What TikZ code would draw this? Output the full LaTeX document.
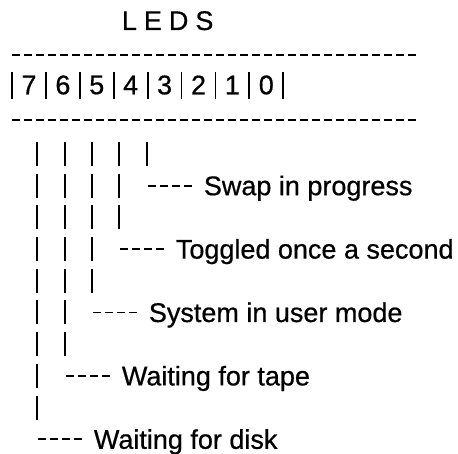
\documentclass[tikz,border=0pt]{standalone}
\usepackage{fontspec}
\setmainfont{Liberation Sans}[FakeBold=0.6]
\begin{document}
\begin{tikzpicture}[x=1pt,y=-1pt,line width=1.8pt]
    \tikzstyle{txt}=[inner sep=0pt,font=\fontsize{27}{32}\selectfont]
    \tikzstyle{dashrule}=[dash pattern=on 8pt off 4pt]
    \useasboundingbox (0,0) rectangle (458,454);

    \node[txt,anchor=base west] (title) at (121,30) {L\kern7pt E\kern7pt D\kern7pt S};
    \draw[dashrule] (12,55) -- (418,55);
    \draw[dashrule] (12,120) -- (418,120);

    % bit numbers between the bars
    \foreach \j in {0,...,8}
        \draw (12+33.9*\j,72) -- ++(0,27);
    \foreach \d [count=\j from 0] in {7,6,5,4,3,2,1,0}
        \node[txt] (D-\d) at (29+33.9*\j,85) {\d};

    % one broken bar and one label per bit
    \foreach \x/\n/\txt in {147/0/Swap in progress, 119/2/Toggled once a second,
            92/4/System in user mode, 65/6/Waiting for tape, 37/8/Waiting for disk}{
        \foreach \r in {0,...,\n}
            \draw (\x,142+31.7*\r) -- ++(0,24);
        \coordinate (S-\n) at (\x+1,185.7+31.7*\n);
        \draw[dashrule] (S-\n) -- ++(44,0);
        \node[txt,anchor=base west] (L-\n) at ([xshift=55pt,yshift=-9.5pt]S-\n) {\txt};
    }
\end{tikzpicture}
\end{document}
